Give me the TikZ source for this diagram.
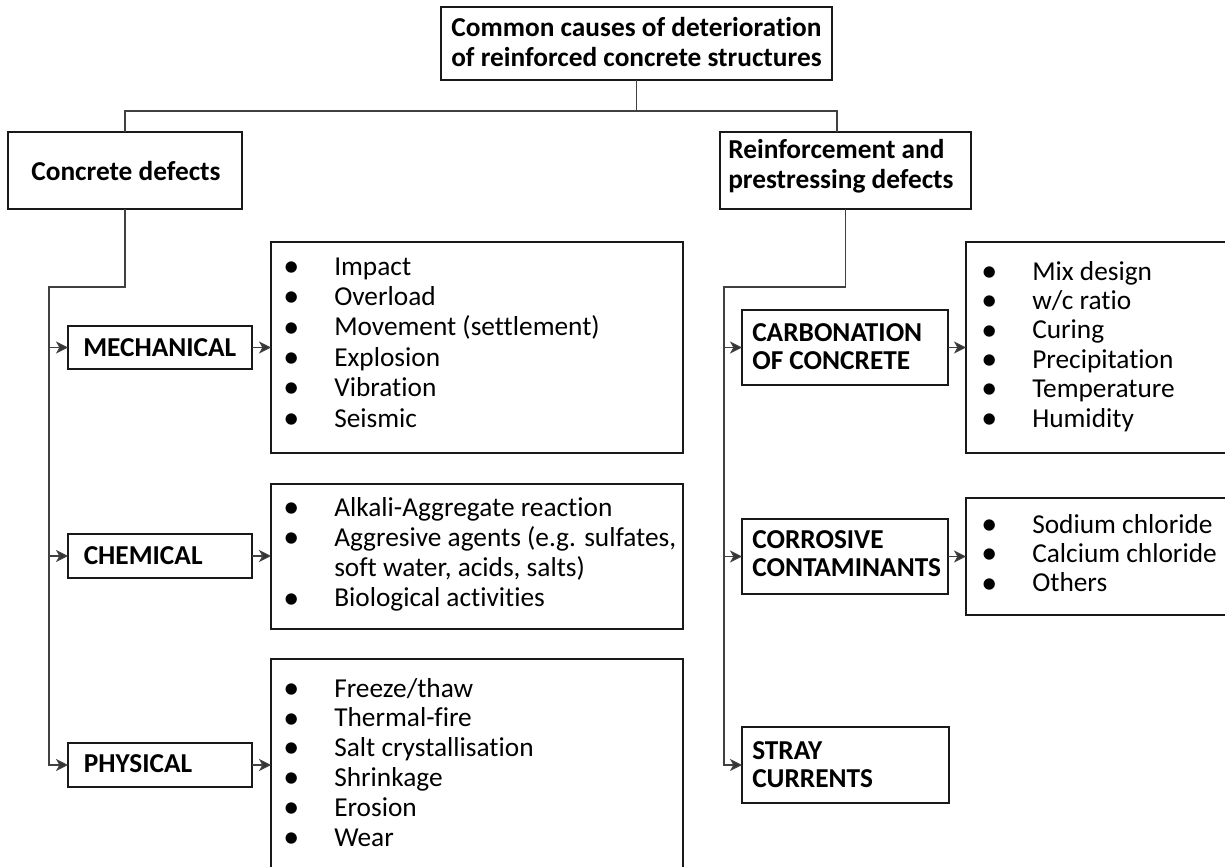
\documentclass[tikz,border=0pt]{standalone}
\usepackage{fontspec}
\setmainfont{Carlito}[Ligatures=NoCommon]
\usetikzlibrary{fit,arrows.meta}
% bullet column used in the item lists
\newcommand{\itm}{\makebox[38.25pt][l]{\raisebox{-0.9pt}{\fontsize{24}{24}\selectfont\textbullet}}}
\newcommand{\noitm}{\hspace*{38.25pt}}
\begin{document}
\begin{tikzpicture}[x=0.75pt,y=-0.75pt,
  frame/.style={draw=black!90,line width=0.9pt,inner sep=0pt,outer sep=0pt},
  wire/.style={draw=black!75,line width=0.9pt},
  arr/.style={wire,-{Stealth[length=9pt,width=9pt,inset=2.5pt,fill=black!80]}},
  head/.style={font={\bfseries\fontsize{20.5}{#1}\selectfont},inner sep=0pt,anchor=base west},
  head/.default=21.5,
  items/.style={font={\fontsize{20.5}{#1}\selectfont},inner sep=0pt,anchor=base west},
]
\useasboundingbox (0,0) rectangle (1225,867);
\fill[white] (0,0) rectangle (1225,867);
\clip (0,0) rectangle (1225,867);

% root
\node[frame,fit={(441,7)(832,80)}] (title) {};
\node[head=22.5,anchor=base] (titletext) at (636.5,37)
  {\begin{tabular}[t]{@{}c@{}}Common causes of deterioration\\ of reinforced concrete structures\end{tabular}};

% two main branches
\node[frame,fit={(8,132)(242,209)}] (concrete) {};
\node[head,anchor=base] (concretetext) at (126,180) {Concrete defects};
\node[frame,fit={(720,132)(971,209)}] (reinf) {};
\node[head=22.5] (reinftext) at (728,158.5)
  {\begin{tabular}[t]{@{}l@{}}Reinforcement and\\ prestressing defects\end{tabular}};

% concrete defects column
\node[frame,fit={(68,326)(252,369)}] (mech) {};
\node[head] (mechtext) at (83,356) {MECHANICAL};
\node[frame,fit={(68,534)(252,578)}] (chem) {};
\node[head] (chemtext) at (83.5,564) {CHEMICAL};
\node[frame,fit={(68,743)(252,787)}] (phys) {};
\node[head] (phystext) at (83.5,772) {PHYSICAL};

\node[frame,fit={(271,242)(683,453)}] (mechlist) {};
\node[items=22.8] (mechitems) at (283,275)
  {\begin{tabular}[t]{@{}l@{}}\itm Impact\\ \itm Overload\\ \itm Movement (settlement)\\
   \itm Explosion\\ \itm Vibration\\ \itm Seismic\end{tabular}};
\node[frame,fit={(271,484)(683,629)}] (chemlist) {};
\node[items=22.7] (chemitems) at (283,516)
  {\begin{tabular}[t]{@{}l@{}}\itm Alkali-Aggregate reaction\\ \itm Aggresive agents (e.g. sulfates,\\
   \noitm soft water, acids, salts)\\ \itm Biological activities\end{tabular}};
\node[frame,fit={(271,659)(683,885)}] (physlist) {};
\node[items=22.35] (physitems) at (283,697)
  {\begin{tabular}[t]{@{}l@{}}\itm Freeze/thaw\\ \itm Thermal-fire\\ \itm Salt crystallisation\\
   \itm Shrinkage\\ \itm Erosion\\ \itm Wear\end{tabular}};

% reinforcement column
\node[frame,fit={(742,310)(948,385)}] (carb) {};
\node[head] (carbtext) at (752,341)
  {\begin{tabular}[t]{@{}l@{}}CARBONATION\\ OF CONCRETE\end{tabular}};
\node[frame,fit={(742,519)(948,594)}] (corr) {};
\node[head] (corrtext) at (752,548)
  {\begin{tabular}[t]{@{}l@{}}CORROSIVE\\ CONTAMINANTS\end{tabular}};
\node[frame,fit={(742,727)(949,803)}] (stray) {};
\node[head] (straytext) at (752,759)
  {\begin{tabular}[t]{@{}l@{}}STRAY\\ CURRENTS\end{tabular}};

\node[frame,fit={(966,242)(1240,453)}] (carblist) {};
\node[items=22.05] (carbitems) at (981,280)
  {\begin{tabular}[t]{@{}l@{}}\itm Mix design\\ \itm w/c ratio\\ \itm Curing\\
   \itm Precipitation\\ \itm Temperature\\ \itm Humidity\end{tabular}};
\node[frame,fit={(966,498)(1240,615)}] (corrlist) {};
\node[items=22.1] (corritems) at (981,533)
  {\begin{tabular}[t]{@{}l@{}}\itm Sodium chloride\\ \itm Calcium chloride\\ \itm Others\end{tabular}};

% connectors
\coordinate (hbar) at (0,111);
\coordinate (rjoin) at (837,132);
\coordinate (lelbow) at (49,287);
\coordinate (relbow) at (724,287);

\draw[wire] (title.south) -- (title.south |- hbar) -| (concrete.north);
\draw[wire] (title.south |- hbar) -| (rjoin);

\draw[arr] (concrete.south) |- (lelbow) |- (phys.west);
\draw[arr] (lelbow |- mech.west) -- (mech.west);
\draw[arr] (lelbow |- chem.west) -- (chem.west);
\draw[arr] (mech.east) -- (mech.east -| mechlist.west);
\draw[arr] (chem.east) -- (chem.east -| chemlist.west);
\draw[arr] (phys.east) -- (phys.east -| physlist.west);

\draw[arr] (reinf.south) |- (relbow) |- (stray.west);
\draw[arr] (relbow |- carb.west) -- (carb.west);
\draw[arr] (relbow |- corr.west) -- (corr.west);
\draw[arr] (carb.east) -- (carb.east -| carblist.west);
\draw[arr] (corr.east) -- (corr.east -| corrlist.west);
\end{tikzpicture}
\end{document}
